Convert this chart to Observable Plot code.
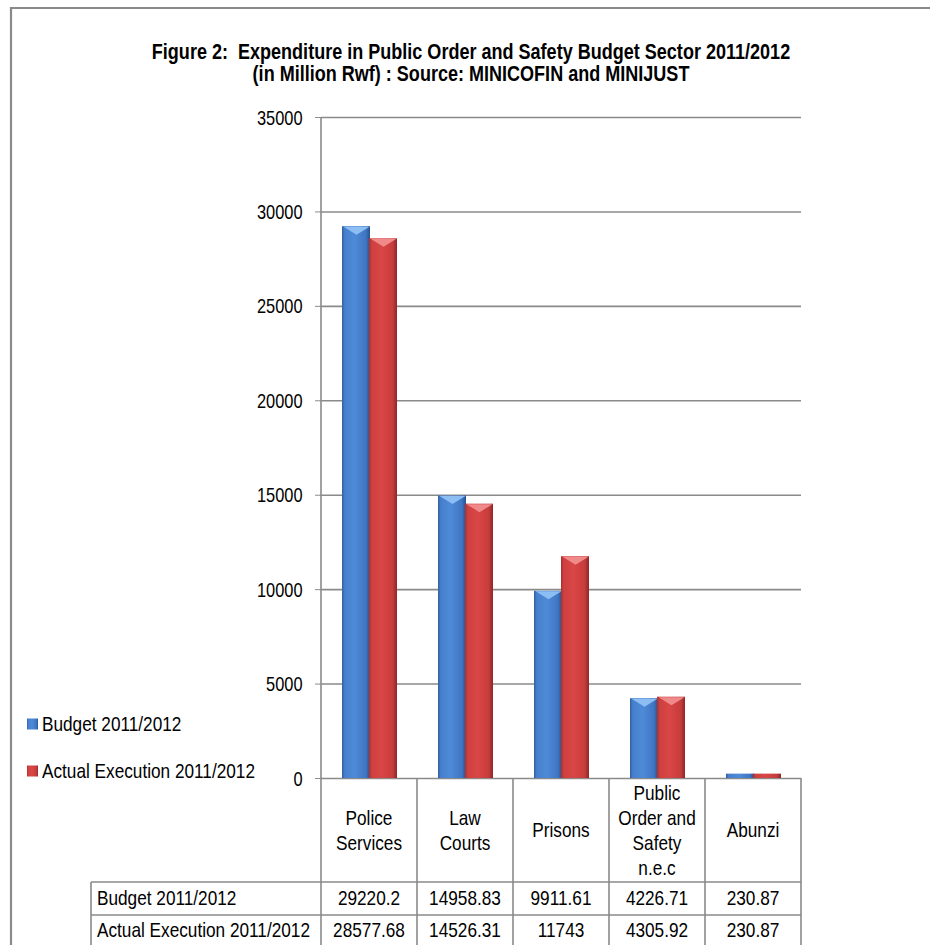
<!DOCTYPE html>
<html><head><meta charset="utf-8">
<script src="https://cdn.jsdelivr.net/npm/d3@7"></script>
<script src="https://cdn.jsdelivr.net/npm/@observablehq/plot@0.6"></script>
<style>
body{margin:0;overflow:hidden;background:#fff;}
#wrap{position:relative;width:930px;height:945px;overflow:hidden;}
</style></head><body><div id="wrap"></div>
<script>
// ---- data ----
const categories = ["Police Services", "Law Courts", "Prisons", "Public Order and Safety n.e.c", "Abunzi"];
const categoryLines = [["Police", "Services"], ["Law", "Courts"], ["Prisons"], ["Public", "Order and", "Safety", "n.e.c"], ["Abunzi"]];
const seriesNames = ["Budget 2011/2012", "Actual Execution 2011/2012"];
const budget = [29220.2, 14958.83, 9911.61, 4226.71, 230.87];
const actual = [28577.68, 14526.31, 11743, 4305.92, 230.87];
const budgetLabels = ["29220.2", "14958.83", "9911.61", "4226.71", "230.87"];
const actualLabels = ["28577.68", "14526.31", "11743", "4305.92", "230.87"];
const yTicks = [0, 5000, 10000, 15000, 20000, 25000, 30000, 35000];
const titleLines = ["Figure 2:  Expenditure in Public Order and Safety Budget Sector 2011/2012", "(in Million Rwf) : Source: MINICOFIN and MINIJUST"];

const rows = categories.map((c, i) => ({cat: c, budget: budget[i], actual: actual[i]}));
const FONT = '"Liberation Sans Narrow","Arial Narrow","Liberation Sans",Arial,sans-serif';
const GRAY = "#8a8a8a";
const NARROW = 0.82;

const bevel = {draw(ctx, l) { ctx.moveTo(-13, 0); ctx.lineTo(13, 0); ctx.lineTo(0, l); ctx.closePath(); }};

const plot = Plot.plot({
  width: 930, height: 945,
  marginLeft: 321, marginRight: 129, marginTop: 117, marginBottom: 167,
  style: {fontFamily: FONT, fontSize: "20px", color: "#000", background: "#fff"},
  x: {domain: categories, padding: 0, axis: null},
  y: {domain: [0, 35000], axis: null},
  marks: [
    Plot.ruleY(yTicks, {stroke: GRAY, strokeWidth: 1.6}),
    Plot.axisY({ticks: yTicks, tickSize: 6, tickPadding: 13, tickFormat: d => String(d), stroke: GRAY, fontSize: 20, label: null}),
    Plot.barY(rows, {x: "cat", y: "budget", fill: "url(#gBlue)", insetLeft: 21, insetRight: 47}),
    Plot.barY(rows, {x: "cat", y: "actual", fill: "url(#gRed)", insetLeft: 48, insetRight: 20}),
    Plot.vector(rows, {filter: d => d.budget > 1000, x: "cat", y: "budget", dx: -13, length: 8, shape: bevel, anchor: "start", fill: "#8cbdf3", stroke: "none"}),
    Plot.vector(rows, {filter: d => d.actual > 1000, x: "cat", y: "actual", dx: 14, length: 8, shape: bevel, anchor: "start", fill: "#f08a8a", stroke: "none"})
  ]
});
document.getElementById("wrap").appendChild(plot);

const svg = d3.select(plot);
const defs = svg.insert("defs", ":first-child");
function grad(id, stops) {
  const gr = defs.append("linearGradient").attr("id", id).attr("x1", 0).attr("x2", 1).attr("y1", 0).attr("y2", 0);
  stops.forEach(([o, c]) => gr.append("stop").attr("offset", o).attr("stop-color", c));
}
grad("gBlue", [[0, "#2f5f9f"], [0.1, "#4680cc"], [0.45, "#4f8ad8"], [0.85, "#3f76c2"], [1, "#28518c"]]);
grad("gRed", [[0, "#a83030"], [0.1, "#cf4040"], [0.45, "#d94646"], [0.85, "#c63c3c"], [1, "#8f2626"]]);

// condense the axis tick labels (narrow font look)
svg.selectAll('[aria-label="y-axis tick label"] text').each(function () {
  const el = this;
  const x = parseFloat(el.getAttribute("x")) || 0, y = parseFloat(el.getAttribute("y")) || 0;
  const t = el.getAttribute("transform") || "";
  el.removeAttribute("x"); el.removeAttribute("y");
  el.setAttribute("transform", `${t} translate(${x},${y}) scale(${NARROW},1)`);
  el.setAttribute("dy", "0.34em");
});

const xs = plot.scale("x");
const ys = plot.scale("y");
const bw = xs.bandwidth;
const xL = xs.range[0], xR = xs.range[1];
const y0 = ys.apply(0), yTop = ys.apply(35000);
const g = svg.append("g").attr("font-family", FONT).attr("fill", "#000").attr("text-anchor", "start");

function txt(x, y, s, size, anchor = "start", weight = "normal") {
  return g.append("text").attr("transform", `translate(${x},${y}) scale(${NARROW},1)`)
    .attr("text-anchor", anchor).attr("font-size", size).attr("font-weight", weight)
    .attr("xml:space", "preserve").text(s);
}

// outer border
g.append("path").attr("d", `M11,960V8H940`).attr("fill", "none").attr("stroke", GRAY).attr("stroke-width", 2.2);

// y axis line
g.append("line").attr("x1", xL).attr("x2", xL).attr("y1", yTop).attr("y2", y0).attr("stroke", GRAY).attr("stroke-width", 1.6);

// title
titleLines.forEach((t, i) => txt(471, 59 + i * 22, t, 22, "middle", "bold"));

// legend
const legendFills = ["url(#gBlue)", "url(#gRed)"];
seriesNames.forEach((s, i) => {
  const cy = 724 + i * 47;
  g.append("rect").attr("x", 27).attr("y", cy - 5.5).attr("width", 11).attr("height", 11).attr("fill", legendFills[i]);
  txt(42, cy + 7, s, 21);
});

// table
const tbl = g.append("g").attr("stroke", GRAY).attr("stroke-width", 1.6);
const hH = 104, rH = 33;
const labelX = 91;
[y0 + hH, y0 + hH + rH, y0 + hH + 2 * rH].forEach(yy =>
  tbl.append("line").attr("x1", labelX).attr("x2", xR).attr("y1", yy).attr("y2", yy));
categories.forEach(c => {
  const x = xs.apply(c);
  tbl.append("line").attr("x1", x).attr("x2", x).attr("y1", y0).attr("y2", y0 + hH + 2 * rH + 5);
});
tbl.append("line").attr("x1", xR).attr("x2", xR).attr("y1", y0).attr("y2", y0 + hH + 2 * rH + 5);
tbl.append("line").attr("x1", labelX).attr("x2", labelX).attr("y1", y0 + hH).attr("y2", y0 + hH + 2 * rH + 5);

categories.forEach((c, i) => {
  const cx = xs.apply(c) + bw / 2;
  const lines = categoryLines[i];
  lines.forEach((ln, j) => {
    const cy = y0 + 52 + (j - (lines.length - 1) / 2) * 25;
    txt(cx, cy + 7, ln, 21, "middle");
  });
  txt(cx, y0 + 120 + 7, budgetLabels[i], 21, "middle");
  txt(cx, y0 + 152 + 7, actualLabels[i], 21, "middle");
});
seriesNames.forEach((s, i) => txt(97, y0 + 120 + i * 32 + 7, s, 21));
</script>
</body></html>
